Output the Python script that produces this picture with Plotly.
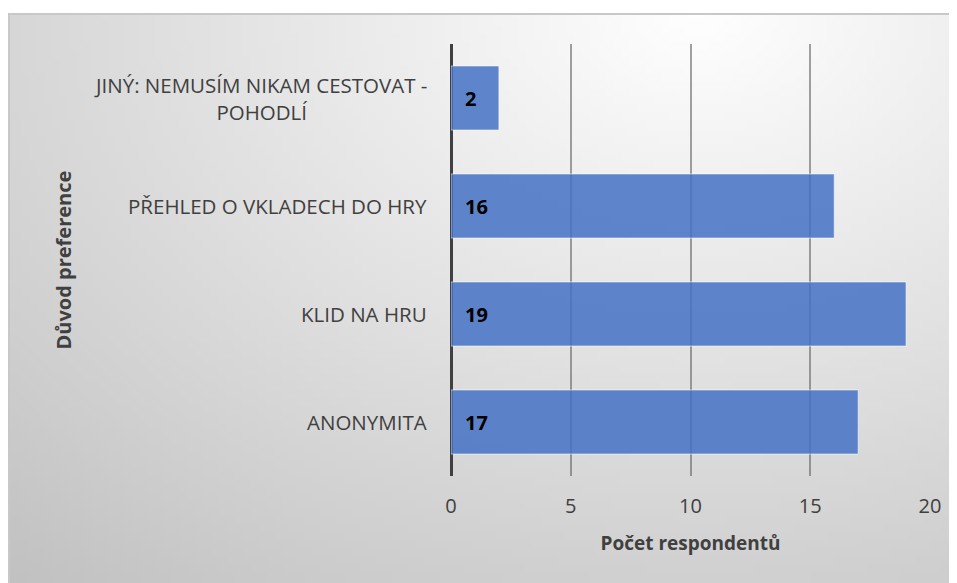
import base64, struct, zlib
import numpy as np
import plotly.graph_objects as go

# data (bottom -> top)
categories = ["ANONYMITA", "KLID NA HRU", "PŘEHLED O VKLADECH DO HRY",
              "JINÝ: NEMUSÍM NIKAM CESTOVAT -<br>POHODLÍ"]
counts = [17, 19, 16, 2]
x_ticks = [0, 5, 10, 15, 20]

# page body has an 8px margin, so the figure starts at (8, 8) of the window
OFF = 8
W, H = 957 - OFF, 583 - OFF
L, R, T, B = 451 - OFF, 27, 44 - OFF, 107
pw, ph = W - L - R, H - T - B


def px_x(p):  # window pixel -> paper x
    return (p - OFF - L) / pw


def px_y(p):  # window pixel -> paper y
    return (H - B - (p - OFF)) / ph


# radial grey background like the Excel chart area, as a small png
def gradient_png(w=120, h=72):
    xs = np.linspace(9, 957, w)
    ys = np.linspace(14, 583, h)
    X, Y = np.meshgrid(xs, ys)
    d = np.sqrt((X - 700) ** 2 + (1.4 * (Y - 10)) ** 2)
    v = np.clip(255 - 0.058 * d, 0, 255).astype(np.uint8)
    raw = b"".join(b"\x00" + row.tobytes() for row in v)

    def chunk(tag, data):
        c = struct.pack(">I", len(data)) + tag + data
        return c + struct.pack(">I", zlib.crc32(tag + data) & 0xffffffff)

    png = b"\x89PNG\r\n\x1a\n" + chunk(b"IHDR", struct.pack(">IIBBBBB", w, h, 8, 0, 0, 0, 0)) \
        + chunk(b"IDAT", zlib.compress(raw)) + chunk(b"IEND", b"")
    return "data:image/png;base64," + base64.b64encode(png).decode()


fig = go.Figure()
fig.add_trace(go.Bar(
    x=counts, y=categories, orientation="h",
    marker=dict(color="rgba(68,114,196,0.85)", line=dict(color="rgba(255,255,255,0.55)", width=1)),
    hoverinfo="x+y",
))

# value labels at the base of each bar
for c, v in zip(categories, counts):
    fig.add_annotation(x=0, y=c, text="<b>%d</b>" % v, showarrow=False, xanchor="left",
                       xshift=12, font=dict(family="Open Sans", size=20, color="black"))

# category labels (centered multi-line like the original)
for c in categories:
    fig.add_annotation(x=px_x(429), xref="paper", y=c, text=c, showarrow=False,
                       xanchor="right", align="center",
                       font=dict(family="Open Sans", size=20.5, color="#404040"))

fig.add_annotation(x=px_x(47), xref="paper", y=px_y(260), yref="paper", text="<b>Důvod preference</b>",
                   textangle=-90, showarrow=False,
                   font=dict(family="Open Sans", size=20, color="#404040"))

fig.add_layout_image(dict(source=gradient_png(), xref="paper", yref="paper",
                          x=px_x(9), y=px_y(14), sizex=(957 - 9) / pw, sizey=(583 - 14) / ph,
                          xanchor="left", yanchor="top", sizing="stretch", layer="below"))
fig.add_shape(type="rect", xref="paper", yref="paper", x0=px_x(9), x1=px_x(960),
              y0=px_y(590), y1=px_y(14), line=dict(color="#c8c8c8", width=2), layer="below")

fig.update_layout(
    width=W, height=H,
    margin=dict(l=L, r=R, t=T, b=B),
    paper_bgcolor="white", plot_bgcolor="rgba(0,0,0,0)",
    bargap=0.407, showlegend=False,
    font=dict(family="Open Sans", color="#404040"),
    xaxis=dict(range=[0, 20], tickvals=x_ticks, showgrid=True,
               gridcolor="rgba(100,100,100,0.6)", gridwidth=1.5,
               zeroline=True, zerolinecolor="#404040", zerolinewidth=3,
               tickfont=dict(size=20, color="#404040"), ticklabelstandoff=16,
               title=dict(text="<b>Počet respondentů</b>", font=dict(size=19, color="#404040"), standoff=18),
               automargin=False, fixedrange=True),
    yaxis=dict(showticklabels=False, showgrid=False, zeroline=False,
               categoryorder="array", categoryarray=categories, automargin=False, fixedrange=True),
)

fig.write_html("out.html")
